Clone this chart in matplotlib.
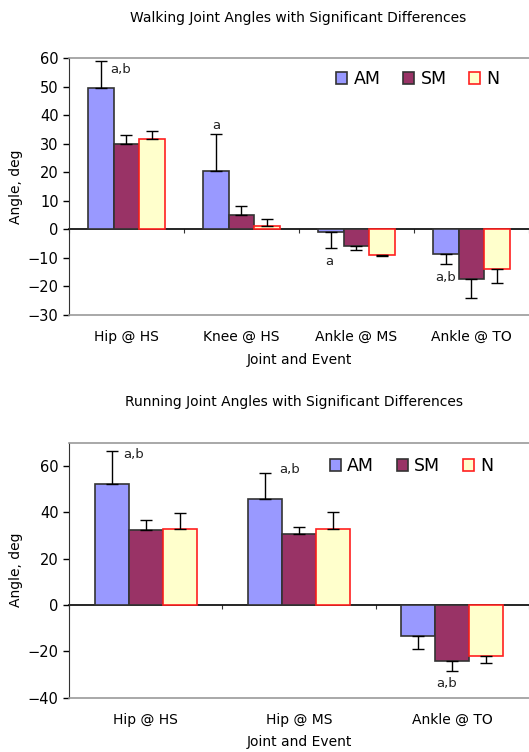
import matplotlib
matplotlib.use("Agg")
import matplotlib.pyplot as plt
import numpy as np

# walking (top panel)
walk_cats = ["Hip @ HS", "Knee @ HS", "Ankle @ MS", "Ankle @ TO"]
walk_am = [49.5, 20.5, -1.1, -8.7]
walk_sm = [30.0, 5.0, -6.0, -17.5]
walk_n = [31.5, 1.0, -9.0, -14.0]
walk_am_err = [9.5, 13.0, 5.5, 3.6]
walk_sm_err = [3.0, 3.0, 1.2, 6.7]
walk_n_err = [3.0, 2.5, 0.5, 4.7]
# significance labels: (x in category units, y in deg, text)
walk_sig = [(-0.05, 55.8, "a,b"), (0.78, 36.4, "a"), (1.765, -11.2, "a"), (2.778, -16.7, "a,b")]

# running (bottom panel)
run_cats = ["Hip @ HS", "Hip @ MS", "Ankle @ TO"]
run_am = [52.2, 45.6, -13.4]
run_sm = [32.4, 30.6, -24.2]
run_n = [32.8, 32.8, -22.0]
run_am_err = [14.3, 11.2, 5.6]
run_sm_err = [4.3, 3.1, 4.4]
run_n_err = [6.8, 7.2, 2.9]
run_sig = [(-0.08, 64.7, "a,b"), (0.94, 58.3, "a,b"), (1.96, -34.0, "a,b")]

series = ["AM", "SM", "N"]
faces = ["#9999FF", "#993366", "#FFFFCC"]
edges = ["#333333", "#333333", "#FF2020"]


def panel(ax, cats, vals, errs, sig, ylim, yticks, leg_x, leg_y):
    x = np.arange(len(cats))
    w = 1 / 4.5
    for i, (v, e) in enumerate(zip(vals, errs)):
        v = np.array(v)
        e = np.array(e)
        lo = np.where(v < 0, e, 0)
        hi = np.where(v >= 0, e, 0)
        ax.bar(x + (i - 1) * w, v, w, color=faces[i], edgecolor=edges[i],
               linewidth=1.2, label=series[i], zorder=2)
        ax.errorbar(x + (i - 1) * w, v, yerr=[lo, hi], fmt="none",
                    ecolor="black", elinewidth=1, capsize=4, capthick=1, zorder=3)
    for sx, sy, s in sig:
        ax.text(sx, sy, s, ha="center", va="center", fontsize=9.5, color="#222222")

    ax.set_xlim(-0.5, len(cats) - 0.5)
    ax.set_ylim(*ylim)
    ax.set_yticks(yticks)
    ax.set_xticks(x)
    ax.set_xticklabels(cats, fontsize=10)
    ax.tick_params(axis="x", length=0, pad=11)
    ax.tick_params(axis="y", direction="out", length=4, labelsize=10.5, width=1)
    for s in ["top", "bottom"]:
        ax.spines[s].set_color("#999999")
        ax.spines[s].set_linewidth(1.2)
    ax.spines["right"].set_visible(False)
    ax.spines["left"].set_color("#333333")

    # zero line with category-boundary ticks
    loc = (0 - ylim[0]) / (ylim[1] - ylim[0])
    sec = ax.secondary_xaxis(loc)
    sec.set_xticks(np.arange(len(cats) + 1) - 0.5)
    sec.set_xticklabels([])
    sec.tick_params(direction="out", length=3, color="#333333")
    sec.spines["bottom"].set_color("black")
    sec.spines["bottom"].set_linewidth(1.2)

    ax.set_xlabel("Joint and Event", fontsize=10, labelpad=6)
    ax.set_ylabel("Angle, deg", fontsize=10, labelpad=3)
    ax.legend(ncol=3, frameon=False, fontsize=12.5, handlelength=0.65,
              handleheight=0.65, handletextpad=0.35, columnspacing=1.3,
              loc="center right", bbox_to_anchor=(leg_x, leg_y),
              borderaxespad=0, borderpad=0)


fig = plt.figure(figsize=(5.29, 7.52), dpi=100)
ax1 = fig.add_axes([0.1304, 0.5811, 0.8696, 0.3418])
ax2 = fig.add_axes([0.1304, 0.0722, 0.8696, 0.3391])

panel(ax1, walk_cats, [walk_am, walk_sm, walk_n], [walk_am_err, walk_sm_err, walk_n_err],
      walk_sig, (-30, 60), np.arange(-30, 61, 10), 0.936, 0.918)
panel(ax2, run_cats, [run_am, run_sm, run_n], [run_am_err, run_sm_err, run_n_err],
      run_sig, (-40, 70), np.arange(-40, 61, 20), 0.922, 0.909)

fig.text(0.563, 0.976, "Walking Joint Angles with Significant Differences",
         ha="center", va="center", fontsize=10)
fig.text(0.556, 0.4654, "Running Joint Angles with Significant Differences",
         ha="center", va="center", fontsize=10)

fig.savefig("out.png", dpi=100)
